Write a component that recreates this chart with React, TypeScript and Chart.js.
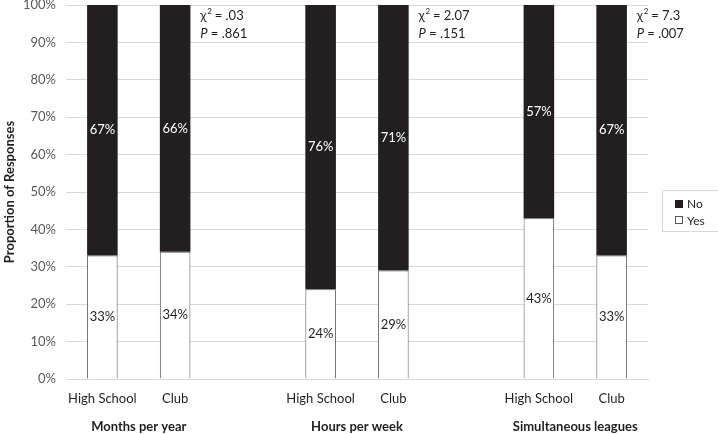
import React, { useEffect, useRef } from 'react'
import { Chart, registerables } from "chart.js";

Chart.register(...registerables);

const categories = ["High School", "Club", "", "High School", "Club", "", "High School", "Club"];
const groupNames = ["Months per year", "Hours per week", "Simultaneous leagues"];
const yesValues = [33, 34, null, 24, 29, null, 43, 33];
const noValues = [67, 66, null, 76, 71, null, 57, 67];
const chiSquare = [".03", "2.07", "7.3"];
const pValues = [".861", ".151", ".007"];
const yTicks = [0, 10, 20, 30, 40, 50, 60, 70, 80, 90, 100];

const FONT = "Lato, 'Open Sans', sans-serif";
const INK = "#231f20";
const GREY = "#595959";

const overlayPlugin = {
    id: "overlay",
    afterDatasetsDraw(chart: any) {
        const ctx = chart.ctx;
        const xScale = chart.scales.x;
        const area = chart.chartArea;

        // value labels inside each segment
        ctx.save();
        ctx.font = `13px ${FONT}`;
        ctx.textAlign = "center";
        ctx.textBaseline = "middle";
        chart.data.datasets.forEach((ds: any, di: number) => {
            const meta = chart.getDatasetMeta(di);
            meta.data.forEach((bar: any, i: number) => {
                const v = ds.data[i];
                if (v == null) return;
                ctx.fillStyle = di === 1 ? "#ffffff" : INK;
                ctx.fillText(`${v}%`, bar.x, (bar.y + bar.base) / 2);
            });
        });

        // group names and chi-square notes
        groupNames.forEach((name, g) => {
            const hs = xScale.getPixelForValue(g * 3);
            const club = xScale.getPixelForValue(g * 3 + 1);
            ctx.font = `bold 13px ${FONT}`;
            ctx.fillStyle = INK;
            ctx.textAlign = "center";
            ctx.fillText(name, (hs + club) / 2, area.bottom + 48);

            const x0 = club + 25;
            ctx.textAlign = "left";
            ctx.font = `13px ${FONT}`;
            ctx.fillText("\u03c7", x0, area.top + 11);
            const chiW = ctx.measureText("\u03c7").width;
            ctx.font = `8px ${FONT}`;
            ctx.fillText("2", x0 + chiW + 1, area.top + 6);
            ctx.font = `13px ${FONT}`;
            ctx.fillText(` = ${chiSquare[g]}`, x0 + chiW + 5, area.top + 11);
            ctx.font = `italic 13px ${FONT}`;
            ctx.fillText("P", x0, area.top + 29);
            const pW = ctx.measureText("P").width;
            ctx.font = `13px ${FONT}`;
            ctx.fillText(` = ${pValues[g]}`, x0 + pW, area.top + 29);
        });

        // legend
        const lx = area.right + 14;
        const ly = 190;
        ctx.strokeStyle = "#d9d9d9";
        ctx.lineWidth = 1;
        ctx.strokeRect(lx + 0.5, ly + 0.5, 60, 41);
        ctx.fillStyle = INK;
        ctx.fillRect(lx + 13, ly + 10, 8, 8);
        ctx.fillStyle = "#ffffff";
        ctx.fillRect(lx + 13, ly + 26, 8, 8);
        ctx.strokeStyle = GREY;
        ctx.strokeRect(lx + 13.5, ly + 26.5, 7, 7);
        ctx.fillStyle = INK;
        ctx.font = `12px ${FONT}`;
        ctx.fillText("No", lx + 25, ly + 14);
        ctx.fillText("Yes", lx + 25, ly + 31);
        ctx.restore();
    },
};

const App: React.FC = () => {
    const chartRef = useRef<HTMLCanvasElement | null>(null);
    const chartInstance = useRef<Chart | null>(null);

    useEffect(() => {
        document.body.style.margin = "0";
        const ctx = chartRef.current?.getContext("2d");
        if (!ctx) return;

        chartInstance.current = new Chart(ctx, {
            type: "bar",
            data: {
                labels: categories,
                datasets: [
                    {
                        label: "Yes",
                        data: yesValues,
                        backgroundColor: "#ffffff",
                        borderColor: GREY,
                        borderWidth: 1,
                        barPercentage: 0.42,
                        categoryPercentage: 1,
                    },
                    {
                        label: "No",
                        data: noValues,
                        backgroundColor: INK,
                        borderWidth: 0,
                        barPercentage: 0.42,
                        categoryPercentage: 1,
                    },
                ],
            },
            options: {
                animation: false,
                responsive: false,
                maintainAspectRatio: false,
                layout: { padding: { top: 5, right: 70, left: 2, bottom: 0 } },
                plugins: {
                    legend: { display: false },
                    tooltip: { enabled: false },
                },
                scales: {
                    x: {
                        stacked: true,
                        grid: { display: false },
                        border: { color: "#d9d9d9" },
                        ticks: {
                            color: INK,
                            font: { family: FONT, size: 13 },
                            padding: 4,
                            maxRotation: 0,
                            autoSkip: false,
                        },
                        afterFit: (scale: any) => {
                            scale.height = 55;
                            scale.paddingLeft = 0;
                            scale.paddingRight = 0;
                        },
                    },
                    y: {
                        stacked: true,
                        min: 0,
                        max: 100,
                        afterBuildTicks: (scale: any) => {
                            scale.ticks = yTicks.map((v) => ({ value: v }));
                        },
                        grid: { color: "#d9d9d9", drawTicks: false },
                        border: { display: false },
                        ticks: {
                            color: GREY,
                            font: { family: FONT, size: 13 },
                            padding: 10,
                            callback: (value: any) => `${value}%`,
                        },
                        title: {
                            display: true,
                            text: "Proportion of Responses",
                            color: INK,
                            font: { family: FONT, size: 13, weight: "bold" },
                            padding: { top: 0, bottom: 0 },
                        },
                        afterFit: (scale: any) => {
                            scale.width = 64;
                            scale.paddingTop = 0;
                            scale.paddingBottom = 0;
                        },
                    },
                },
            },
            plugins: [overlayPlugin],
        });

        return () => {
            if (chartInstance.current) {
                chartInstance.current.destroy();
            }
        };
    }, []);

    return (
        <div style={{ width: 718, height: 434 }}>
            <canvas ref={chartRef} width={718} height={434} style={{ width: 718, height: 434 }}></canvas>
        </div>
    );
}

export default App
